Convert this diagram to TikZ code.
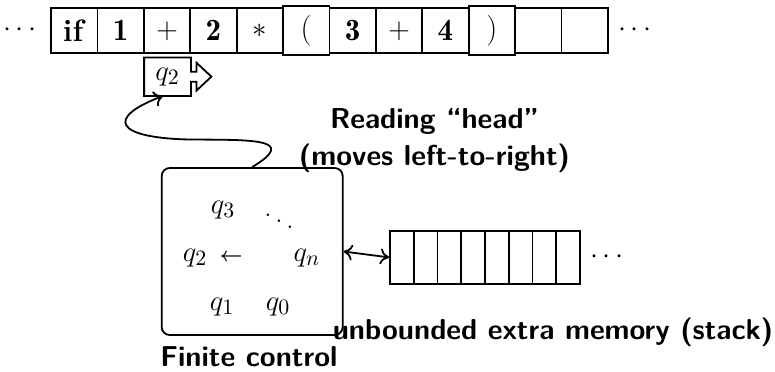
\documentclass[tikz,border=0pt]{standalone}
\usepackage{fontspec}
\usetikzlibrary{calc,arrows.meta}
\newcommand\symsize{\fontsize{15.5}{18.6}\selectfont}
\begin{document}
\begin{tikzpicture}[x=0.5pt,y=-0.5pt,
  line width=0.9pt,
  >={Computer Modern Rightarrow[length=4.5pt,width=8pt]},
  tapecell/.style={draw,fill=white,minimum width=23.2pt,minimum height=22.5pt,inner sep=0pt,font=\symsize},
  bigcell/.style={tapecell,minimum height=24.7pt},
  stackcell/.style={draw,minimum width=11.875pt,minimum height=26.65pt,inner sep=0pt},
  sym/.style={inner sep=0pt,font=\symsize},
  caption/.style={inner sep=0pt,font=\Large\sffamily\bfseries,anchor=base}]
\useasboundingbox (0,0) rectangle (775,371);

% input tape
\node[sym] (ldots) at (20,30) {$\cdots$};
\node[tapecell] (c0)  at ( 74.2,30.8) {\textbf{if}};
\node[tapecell] (c1)  at (120.6,30.8) {$\mathbf{1}$};
\node[tapecell] (c2)  at (167.0,30.8) {$+$};
\node[tapecell] (c3)  at (213.4,30.8) {$\mathbf{2}$};
\node[tapecell] (c4)  at (259.8,30.8) {$\ast$};
\node[tapecell] (c6)  at (352.6,30.8) {$\mathbf{3}$};
\node[tapecell] (c7)  at (399.0,30.8) {$+$};
\node[tapecell] (c8)  at (445.4,30.8) {$\mathbf{4}$};
\node[tapecell] (c10) at (538.2,30.8) {};
\node[tapecell] (c11) at (584.6,30.8) {};
\node[bigcell]  (c5)  at (306.2,30.35) {(};
\node[bigcell]  (c9)  at (491.8,30.35) {)};
\node[sym] (rdots) at (635,30) {$\cdots$};

% reading head with its direction arrow
\node[sym,minimum width=22.5pt,minimum height=18.35pt] (head) at (167.5,76.65) {$q_2$};
\draw (head.north west) -- (head.north east) -- ($(head.east)+(0,-5)$) -- ++(5.5,0)
  -- ++(0,-9) -- ($(head.east)+(20.5,0)$) -- ($(head.east)+(5.5,14)$) -- ++(0,-9)
  -- ($(head.east)+(0,5)$) -- (head.south east) -- (head.south west) -- cycle;

% finite control
\node[draw,rounded corners,minimum width=90.5pt,minimum height=83.5pt] (ctrl) at (252.2,251.5) {};
\node[sym] (s3) at (223,210) {$q_3$};
\node[sym] (sd) at (279,215) {$\ddots$};
\node[sym] (s2) at (195,258) {$q_2$};
\node[sym,font=\fontsize{10}{12}\selectfont\boldmath] (sa) at (231,258) {$\leftarrow$};
\node[sym] (sn) at (307,258) {$q_n$};
\node[sym] (s1) at (222,307) {$q_1$};
\node[sym] (s0) at (278,307) {$q_0$};

% link from the control to the head
\draw[->] (ctrl.north) .. controls (300,138) and (250,140) .. (190,139.5)
  .. controls (115,138) and (105,118) .. ($(head.south)+(-4.5,0)$);

% stack
\foreach \i in {1,...,8}
  \node[stackcell] (m\i) at ({390+23.75*(\i-0.5)},257.4) {};
\node[sym] (mdots) at (607,257) {$\cdots$};
\draw[<->] (ctrl.east) -- (m1.west);

% captions
\node[caption] (cap1) at (434.5,128) {Reading “head”};
\node[caption] (cap2) at (434.5,165) {(moves left-to-right)};
\node[caption] (cap3) at (553,339) {unbounded extra memory (stack)};
\node[caption] (cap4) at (249,366) {Finite control};
\end{tikzpicture}
\end{document}
